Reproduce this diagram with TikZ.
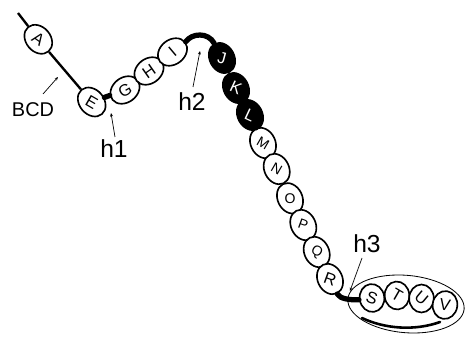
\documentclass[tikz,border=0pt]{standalone}
\usepackage{fontspec}
\usepackage{graphicx}
\setmainfont{Liberation Sans}
\usetikzlibrary{shapes.geometric,arrows.meta}
\begin{document}
\begin{tikzpicture}[x=0.03cm,y=-0.03cm,
  bead/.style={ellipse,draw=black,line width=1.4pt,fill=white,minimum width=0.95cm,minimum height=0.74cm,inner sep=0pt,font=\fontsize{14}{14}\selectfont},
  sbead/.style={bead,font=\fontsize{12}{12}\selectfont},
  dbead/.style={bead,fill=black,text=white},
  vbead/.style={bead,minimum width=0.74cm,minimum height=0.84cm},
  chain/.style={line width=2pt},
  thickseg/.style={line width=4.5pt,line cap=round},
  lbl/.style={line width=0.6pt,-{Stealth[length=3pt,width=2.5pt]}},
  hlab/.style={font=\fontsize{21}{21}\selectfont,inner sep=0pt},
  blab/.style={font=\fontsize{17}{17}\selectfont,inner sep=0pt}]
\useasboundingbox (0,0) rectangle (465,338);
% beads
\node[bead,rotate=-50] (A) at (38.3,39.3) {\rotatebox{15}{A}};
\node[bead,rotate=-50] (E) at (91.7,102) {\rotatebox{20}{E}};
\node[bead,rotate=38] (G) at (125,90) {\rotatebox{-8}{G}};
\node[bead,rotate=38] (H) at (149,71) {\rotatebox{-3}{H}};
\node[bead,rotate=38] (I) at (172.5,52) {\rotatebox{2}{I}};
\node[dbead,rotate=-62] (J) at (222,58) {\rotatebox{47}{J}};
\node[dbead,rotate=-62] (K) at (236,88) {\rotatebox{37}{K}};
\node[dbead,rotate=-62] (L) at (250,115) {\rotatebox{37}{L}};
\node[sbead,rotate=-64] (M) at (263,143) {\rotatebox{34}{M}};
\node[sbead,rotate=-64] (N) at (276.7,169) {\rotatebox{34}{N}};
\node[sbead,rotate=-64] (O) at (290,198.3) {\rotatebox{64}{O}};
\node[sbead,rotate=-64] (P) at (303.3,225) {\rotatebox{44}{P}};
\node[sbead,rotate=-64] (Q) at (316.7,252) {\rotatebox{34}{Q}};
\node[bead,rotate=-64] (R) at (330,279) {\rotatebox{44}{R}};
\node[vbead,rotate=8] (S) at (372,298) {\rotatebox{-28}{S}};
\node[vbead,rotate=5] (T) at (397,295.5) {\rotatebox{-35}{T}};
\node[vbead,rotate=0] (U) at (421.5,298.5) {\rotatebox{-40}{U}};
\node[vbead,rotate=-8] (V) at (445,305) {\rotatebox{-2}{V}};
% group ellipse
\node[ellipse,draw=black,line width=0.7pt,minimum width=3.5cm,minimum height=1.72cm,inner sep=0pt,rotate=-5] (grp) at (406,304) {};
\coordinate (arcL) at (362,318);
\coordinate (arcR) at (440,322);
\draw[line width=2.2pt,line cap=round] (arcL) .. controls (385,329) and (415,331) .. (arcR);
% chain
\coordinate (start) at (18,13);
\draw[chain] (start) -- (A);
\draw[chain] (A) -- (E);
\draw[thickseg] (E) -- (G);
\draw[thickseg] (I.east) .. controls (192,33) and (208,32) .. (J.west);
\draw[chain] (L) -- (M);
\draw[thickseg] (R.east) .. controls (340,299) and (350,300) .. (S.west);
% labels
\node[blab] (BCD) at (33,110) {BCD};
\node[hlab] (h1) at (114,149) {h1};
\node[hlab] (h2) at (192,102) {h2};
\node[hlab] (h3) at (367,244) {h3};
\coordinate (bcdS) at (43,94);
\coordinate (bcdT) at (58,77);
\coordinate (h1S) at (115,137);
\coordinate (h1T) at (111,113);
\coordinate (h2S) at (193,87);
\coordinate (h2T) at (200,51);
\coordinate (h3S) at (362,258);
\coordinate (h3T) at (350,291);
\draw[lbl] (bcdS) -- (bcdT);
\draw[lbl] (h1S) -- (h1T);
\draw[lbl] (h2S) -- (h2T);
\draw[lbl] (h3S) -- (h3T);
\end{tikzpicture}
\end{document}
